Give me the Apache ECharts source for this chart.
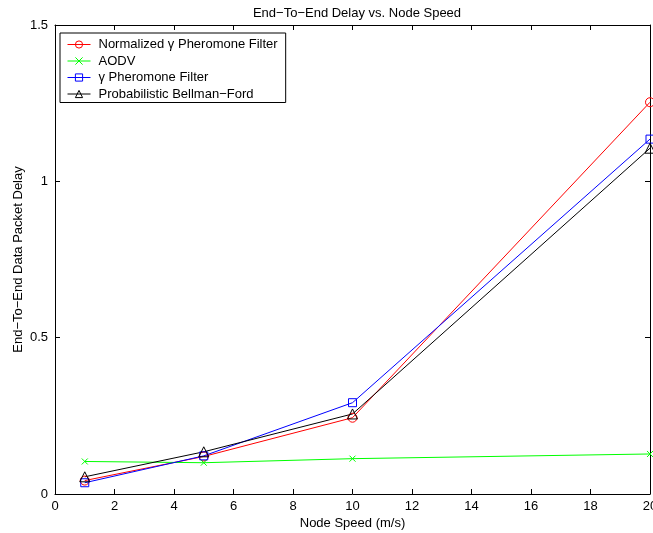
<!DOCTYPE html>
<html>
<head>
<meta charset="utf-8">
<script src="https://cdn.jsdelivr.net/npm/echarts@6/dist/echarts.min.js"></script>
<style>
html,body{margin:0;padding:0;background:#fff;}
#c{width:653px;height:533px;}
</style>
</head>
<body>
<div id="c"></div>
<script>
var speeds = [1, 5, 10, 20];
var normGamma = [0.043, 0.120, 0.244, 1.253];
var aodv = [0.104, 0.100, 0.113, 0.128];
var gamma = [0.036, 0.122, 0.292, 1.135];
var bellman = [0.055, 0.135, 0.256, 1.106];
var seriesNames = ['Normalized \u03b3 Pheromone Filter', 'AODV', '\u03b3 Pheromone Filter', 'Probabilistic Bellman\u2212Ford'];
var titleText = 'End\u2212To\u2212End Delay vs. Node Speed';
var xName = 'Node Speed (m/s)';
var yName = 'End\u2212To\u2212End Data Packet Delay';

var font = "'Liberation Sans', Arial, Helvetica, sans-serif";
var chart = echarts.init(document.getElementById('c'));

function pairs(ys){ return speeds.map(function(x,i){ return [x, ys[i]]; }); }
function mk(name, ys, color, symbol, size){
  return {
    name: name, type: 'line', data: pairs(ys), xAxisIndex: 0, yAxisIndex: 0,
    symbol: symbol, symbolSize: size, showSymbol: true,
    lineStyle: {color: color, width: 1},
    itemStyle: {color: 'rgba(255,255,255,0)', borderColor: color, borderWidth: 1},
    color: color,
    animation: false, z: 3
  };
}
var crossPath = 'path://M0,0L10,10M10,0L0,10';

var axisLine = {show: true, onZero: false, lineStyle: {color: '#000', width: 1}};
var tick = {show: true, inside: true, length: 5, lineStyle: {color: '#000'}};
var lbl = {color: '#000', fontFamily: font, fontSize: 13};

chart.setOption({
  animation: false,
  backgroundColor: '#fff',
  title: {text: titleText, left: 352, textAlign: 'center', top: 2,
    textStyle: {fontFamily: font, fontSize: 13, fontWeight: 'normal', color: '#000'}},
  grid: {left: 55, right: 3, top: 25, bottom: 39, containLabel: false, outerBoundsMode: 'none'},
  legend: {
    left: 60, top: 33, orient: 'vertical',
    data: seriesNames,
    itemWidth: 23, itemHeight: 9, itemGap: 3.5,
    borderColor: '#000', borderWidth: 1, padding: [5, 8, 2, 7],
    backgroundColor: '#fff',
    lineStyle: {width: 1},
    itemStyle: {borderWidth: 1},
    textStyle: {fontFamily: font, fontSize: 13, color: '#000', padding: [0,0,0,3]}
  },
  xAxis: [
    {type: 'value', min: 0, max: 20, interval: 2, position: 'bottom',
     axisLine: axisLine, axisTick: tick, splitLine: {show: false},
     axisLabel: Object.assign({margin: 6}, lbl),
     name: xName, nameLocation: 'middle', nameGap: 23, nameMoveOverlap: false,
     nameTextStyle: {fontFamily: font, fontSize: 13, color: '#000'}},
    {type: 'value', min: 0, max: 20, interval: 2, position: 'top',
     axisLine: axisLine, axisTick: tick, splitLine: {show: false},
     axisLabel: {show: false}}
  ],
  yAxis: [
    {type: 'value', min: 0, max: 1.5, interval: 0.5, position: 'left',
     axisLine: axisLine, axisTick: tick, splitLine: {show: false},
     axisLabel: Object.assign({margin: 7}, lbl),
     name: yName, nameLocation: 'middle', nameGap: 30, nameMoveOverlap: false,
     nameTextStyle: {fontFamily: font, fontSize: 13, color: '#000'}},
    {type: 'value', min: 0, max: 1.5, interval: 0.5, position: 'right',
     axisLine: axisLine, axisTick: tick, splitLine: {show: false},
     axisLabel: {show: false}}
  ],
  series: [
    mk(seriesNames[0], normGamma, '#ff0000', 'circle', 9),
    mk(seriesNames[1], aodv, '#00ff00', crossPath, 6),
    mk(seriesNames[2], gamma, '#0000ff', 'rect', 8),
    mk(seriesNames[3], bellman, '#000000', 'triangle', 10),
    {type: 'line', xAxisIndex: 1, yAxisIndex: 1, data: [], silent: true}
  ]
});
</script>
</body>
</html>
